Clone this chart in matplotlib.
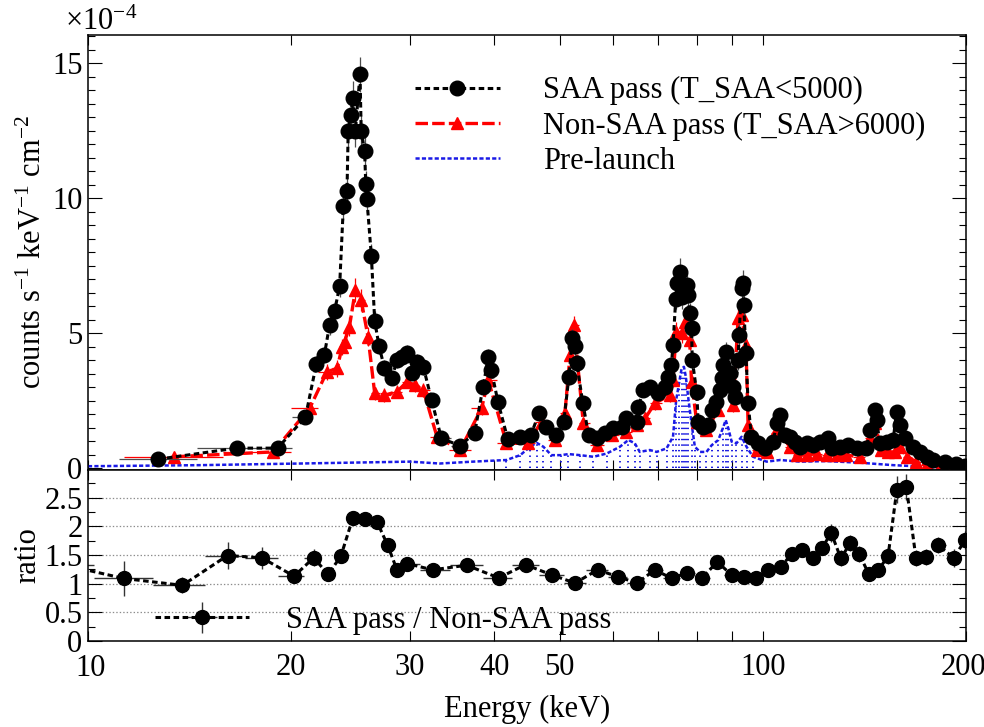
import numpy as np
import matplotlib
matplotlib.use("Agg")
import matplotlib.pyplot as plt
import matplotlib.transforms as mtransforms
from matplotlib.lines import Line2D
from matplotlib.ticker import FixedLocator, MultipleLocator, FuncFormatter, NullLocator

plt.rcParams['font.family'] = ['Liberation Serif', 'DejaVu Serif']
plt.rcParams['mathtext.fontset'] = 'custom'
plt.rcParams['mathtext.rm'] = 'Liberation Serif'
plt.rcParams['mathtext.it'] = 'Liberation Serif:italic'
plt.rcParams['lines.scale_dashes'] = False

# spectra, values in units of 1e-4 counts/s/keV/cm2
saa_e = [12.7, 16.6, 19.1, 21.0, 21.8, 22.4, 22.8, 23.2, 23.6, 23.9,
         24.2, 24.3, 24.5, 24.7, 24.9, 25.3, 25.4, 25.7, 25.8, 25.9,
         26.3, 26.6, 27.0, 27.5, 28.2, 28.7, 29.2, 29.7, 30.2, 30.7,
         31.4, 32.3, 33.4, 35.6, 37.4, 38.5, 39.2, 39.6, 40.5, 41.9,
         43.7, 45.3, 46.6, 47.8, 49.3, 50.7, 51.6, 52.2, 52.7, 53.0,
         54.1, 55.2, 56.7, 58.3, 60.0, 61.8, 62.6, 65.0, 65.4, 66.5,
         68.0, 70.0, 71.6, 72.4, 73.2, 73.6, 74.3, 74.6, 75.3, 75.8,
         77.1, 77.5, 77.9, 78.4, 78.6, 79.8, 80.2, 81.6, 83.0, 84.0,
         85.2, 86.4, 86.9, 87.4, 88.1, 89.4, 90.4, 90.9, 91.9, 92.2,
         93.0, 93.5, 93.7, 94.4, 95.1, 96.2, 98.4, 100.7, 103.6, 104.8,
         106.2, 107.8, 109.6, 111.5, 113.5, 116.1, 118.7, 121.5, 125.0, 126.4,
         130.1, 133.8, 137.7, 142.4, 144.1, 146.5, 147.4, 149.1, 152.5, 156.0,
         157.8, 159.6, 162.3, 167.0, 170.9, 174.8, 178.8, 186.1, 193.6, 199.0]
saa_v = [0.34, 0.75, 0.75, 1.90, 3.87, 4.20, 5.30, 5.83, 6.75, 9.71,
         10.27, 12.50, 13.10, 13.70, 12.50, 14.60, 12.50, 11.75, 10.53, 9.97,
         7.86, 5.46, 4.52, 3.72, 3.34, 4.00, 4.13, 4.27, 3.53, 3.95,
         3.76, 2.53, 1.11, 0.84, 1.30, 3.02, 4.13, 3.64, 2.47, 1.07,
         1.17, 1.23, 2.04, 1.54, 1.23, 1.73, 3.39, 4.81, 4.54, 3.89,
         2.43, 1.23, 1.11, 1.30, 1.48, 1.54, 1.85, 1.73, 2.28, 2.90,
         3.02, 2.78, 3.02, 3.39, 3.83, 4.57, 6.29, 6.85, 7.28, 6.36,
         6.79, 6.42, 5.74, 5.19, 4.01, 2.84, 1.73, 1.54, 1.60, 2.16,
         2.47, 2.90, 3.33, 3.83, 4.32, 3.52, 3.02, 2.65, 4.01, 4.94,
         6.67, 6.85, 6.05, 4.26, 2.41, 1.17, 0.93, 0.74, 0.99, 1.67,
         1.97, 1.23, 1.17, 0.99, 0.80, 0.93, 0.86, 0.99, 1.11, 0.74,
         0.80, 0.86, 0.74, 0.74, 1.42, 2.16, 1.79, 0.93, 0.99, 1.05,
         2.10, 1.60, 1.11, 0.80, 0.61, 0.43, 0.31, 0.25, 0.18, 0.09]
saa_err = [0.10, 0.15, 0.15, 0.20, 0.30, 0.30, 0.35, 0.35, 0.40, 0.50,
           0.50, 0.60, 0.60, 0.65, 0.60, 0.65, 0.60, 0.60, 0.50, 0.50,
           0.45, 0.35, 0.30, 0.30, 0.25, 0.30, 0.30, 0.30, 0.25, 0.30,
           0.30, 0.25, 0.15, 0.15, 0.15, 0.25, 0.30, 0.30, 0.25, 0.15,
           0.15, 0.15, 0.20, 0.20, 0.15, 0.20, 0.30, 0.35, 0.35, 0.30,
           0.25, 0.15, 0.15, 0.15, 0.15, 0.20, 0.20, 0.20, 0.25, 0.25,
           0.25, 0.25, 0.25, 0.25, 0.30, 0.35, 0.40, 0.45, 0.50, 0.45,
           0.45, 0.45, 0.40, 0.40, 0.35, 0.25, 0.20, 0.20, 0.20, 0.25,
           0.25, 0.25, 0.30, 0.30, 0.35, 0.30, 0.30, 0.25, 0.35, 0.40,
           0.45, 0.50, 0.45, 0.35, 0.25, 0.15, 0.15, 0.15, 0.15, 0.20,
           0.20, 0.15, 0.15, 0.15, 0.15, 0.15, 0.15, 0.15, 0.15, 0.15,
           0.15, 0.15, 0.15, 0.15, 0.20, 0.25, 0.20, 0.15, 0.15, 0.15,
           0.25, 0.20, 0.15, 0.15, 0.10, 0.10, 0.10, 0.10, 0.10, 0.10]

nonsaa_e = [13.4, 18.8, 21.3, 22.6, 23.4, 23.8, 24.0, 24.4, 24.9, 25.4,
            26.0, 26.6, 27.5, 28.7, 29.7, 30.5, 31.4, 32.9, 35.6, 38.3,
            39.2, 41.7, 44.9, 47.0, 49.2, 50.9, 51.8, 52.5, 54.2, 56.7,
            59.7, 62.8, 65.0, 66.9, 69.2, 72.8, 73.6, 74.4, 75.8, 76.6,
            77.9, 78.4, 79.8, 82.5, 85.9, 86.9, 88.9, 90.4, 91.9, 93.0,
            94.4, 95.1, 97.9, 101.3, 104.2, 106.1, 109.6, 112.2, 116.1, 120.1,
            124.3, 128.6, 133.0, 139.2, 144.1, 146.5, 149.9, 153.3, 156.9, 159.6,
            163.3, 168.9, 174.8, 182.9, 191.4, 199.2]
nonsaa_v = [0.43, 0.61, 2.22, 3.58, 3.70, 4.50, 4.69, 5.24, 6.60, 6.23,
            4.87, 2.78, 2.71, 2.84, 3.21, 3.09, 2.90, 1.17, 0.68, 2.22,
            3.27, 0.93, 0.93, 1.73, 1.05, 2.04, 4.20, 5.31, 1.67, 0.86,
            1.23, 1.36, 1.60, 1.85, 2.41, 2.71, 3.27, 5.06, 5.00, 5.43,
            4.75, 3.21, 1.73, 1.42, 2.16, 3.21, 3.21, 2.34, 5.56, 5.68,
            4.57, 1.60, 0.68, 0.61, 1.30, 1.30, 0.80, 0.49, 0.49, 0.55,
            0.49, 0.49, 0.49, 0.43, 1.11, 1.67, 0.68, 0.61, 0.61, 0.80,
            0.43, 0.25, 0.12, 0.04, 0.04, 0.00]
nonsaa_err = [0.10, 0.15, 0.25, 0.30, 0.30, 0.30, 0.35, 0.35, 0.45, 0.40,
              0.35, 0.25, 0.25, 0.25, 0.25, 0.25, 0.25, 0.15, 0.10, 0.25,
              0.30, 0.15, 0.15, 0.20, 0.15, 0.20, 0.30, 0.35, 0.20, 0.15,
              0.15, 0.15, 0.20, 0.20, 0.25, 0.25, 0.25, 0.35, 0.35, 0.35,
              0.35, 0.25, 0.20, 0.20, 0.20, 0.25, 0.25, 0.25, 0.35, 0.35,
              0.30, 0.20, 0.10, 0.10, 0.15, 0.15, 0.10, 0.10, 0.10, 0.10,
              0.10, 0.10, 0.10, 0.10, 0.15, 0.20, 0.10, 0.10, 0.10, 0.10,
              0.10, 0.08, 0.06, 0.05, 0.05, 0.05]

pre_e = [10.0, 14.7, 20.6, 30.0, 33.2, 37.2, 41.7, 43.7, 45.2, 46.2,
         47.3, 48.6, 50.3, 51.5, 53.6, 56.1, 58.7, 61.4, 63.2, 64.6,
         65.7, 68.0, 69.6, 72.0, 73.6, 74.4, 75.2, 75.8, 76.4, 76.9,
         77.5, 78.4, 79.3, 80.7, 82.5, 84.0, 85.9, 87.4, 88.1, 88.9,
         89.9, 91.4, 93.0, 94.6, 96.7, 101.3, 106.1, 113.5, 124.3, 139.2,
         156.0, 174.8, 187.1, 200.0]
pre_v = [0.08, 0.12, 0.18, 0.25, 0.18, 0.25, 0.31, 0.49, 0.80, 0.95,
         0.80, 0.49, 0.49, 0.53, 0.49, 0.43, 0.55, 0.80, 1.05, 0.93,
         0.61, 0.68, 0.61, 0.74, 1.17, 2.53, 3.21, 3.70, 3.76, 3.39,
         2.65, 1.67, 0.80, 0.61, 0.61, 0.86, 1.05, 1.54, 1.79, 1.48,
         0.99, 0.93, 1.17, 0.80, 0.43, 0.25, 0.31, 0.25, 0.27, 0.21,
         0.12, 0.06, -0.03, 0.00]

# ratio SAA / non-SAA (first and last bins sit just outside 10-200 keV)
ratio_e = [9.2, 11.3, 13.8, 16.1, 18.1, 20.2, 21.6, 22.7, 23.7, 24.7, 25.7,
           26.8, 27.8, 28.7, 29.7, 32.4, 36.4, 40.6, 44.5, 48.7, 52.7,
           56.9, 61.0, 65.1, 69.2, 73.3, 77.3, 81.3, 85.6, 89.9, 93.9,
           97.6, 101.9, 106.4, 110.3, 114.4, 118.5, 122.3, 126.3, 130.5, 134.8,
           138.9, 143.5, 148.2, 153.3, 158.0, 163.2, 168.6, 174.2, 181.8, 191.8,
           199.5, 206.0]
ratio_v = [1.33, 1.09, 0.97, 1.49, 1.45, 1.13, 1.45, 1.16, 1.48, 2.15, 2.12,
           2.08, 1.67, 1.24, 1.35, 1.24, 1.32, 1.10, 1.33, 1.15, 1.01,
           1.24, 1.12, 1.01, 1.24, 1.09, 1.19, 1.10, 1.38, 1.15, 1.12,
           1.09, 1.23, 1.29, 1.52, 1.59, 1.45, 1.62, 1.88, 1.44, 1.71,
           1.52, 1.17, 1.23, 1.48, 2.64, 2.68, 1.45, 1.47, 1.67, 1.45,
           1.76, 1.25]
ratio_err = [0.30, 0.30, 0.14, 0.23, 0.19, 0.12, 0.15, 0.12, 0.12, 0.10, 0.10,
             0.10, 0.10, 0.08, 0.08, 0.07, 0.07, 0.07, 0.07, 0.07, 0.07,
             0.07, 0.07, 0.07, 0.07, 0.07, 0.07, 0.07, 0.08, 0.08, 0.08,
             0.08, 0.08, 0.10, 0.10, 0.12, 0.12, 0.12, 0.16, 0.14, 0.14,
             0.14, 0.12, 0.12, 0.14, 0.23, 0.23, 0.14, 0.14, 0.14, 0.16,
             0.16, 0.20]

xticks = [10, 20, 30, 40, 50, 60, 70, 80, 90, 100, 200]
xticklabels = [10, 20, 30, 40, 50, 100, 200]

FS = 22


def bin_halfwidths(e):
    # bin edges half way (in log) between neighbouring points
    e = np.asarray(e, float)
    mid = np.sqrt(e[1:] * e[:-1])
    lo = np.concatenate([[e[0] ** 2 / mid[0]], mid])
    hi = np.concatenate([mid, [e[-1] ** 2 / mid[-1]]])
    return np.vstack([e - lo, hi - e])


def style_xaxis(ax):
    ax.set_xscale('log')
    ax.set_xlim(10, 200)
    ax.xaxis.set_major_locator(FixedLocator(xticks))
    ax.xaxis.set_minor_locator(NullLocator())
    ax.xaxis.set_major_formatter(FuncFormatter(
        lambda v, p: '%d' % round(v) if round(v) in xticklabels else ''))
    ax.tick_params(axis='x', which='major', direction='in', length=7, width=0.8,
                   top=True, bottom=True, labelsize=FS, pad=8.5)
    for s in ax.spines.values():
        s.set_linewidth(1.1)


def nudge(label, dx_px, dy_px):
    label.set_transform(label.get_transform() +
                        mtransforms.ScaledTranslation(dx_px / 100, dy_px / 100,
                                                      fig.dpi_scale_trans))


fig = plt.figure(figsize=(9.84, 7.27), dpi=100)
ax1 = fig.add_axes([0.0894, 0.3535, 0.8923, 0.5984])
ax2 = fig.add_axes([0.0894, 0.1183, 0.8923, 0.2352])

# ---- top panel: spectra
pe = np.array(pre_e)
pv = np.array(pre_v)
m = (pe > 40) & (pe < 100)
ax1.vlines(pe[m], 0, pv[m], colors='#1a1ae0', linestyles=(0, (1, 3)), lw=1.4)
ax1.plot(pre_e, pre_v, color='#1a1ae6', lw=1.8, dashes=(3, 1.6))

ax1.errorbar(nonsaa_e, nonsaa_v, yerr=nonsaa_err, xerr=bin_halfwidths(nonsaa_e),
             fmt='none', ecolor='red', elinewidth=0.9)
ax1.plot(nonsaa_e, nonsaa_v, color='red', lw=2.4, dashes=(9, 3),
         marker='^', ms=9, mfc='red', mec='red')

ax1.errorbar(saa_e, saa_v, yerr=saa_err, xerr=bin_halfwidths(saa_e),
             fmt='none', ecolor='0.3', elinewidth=0.9)
ax1.plot(saa_e, saa_v, color='k', lw=2.2, dashes=(4, 2.5),
         marker='o', ms=10.5, mfc='k', mec='k')

style_xaxis(ax1)
ax1.tick_params(axis='x', labelbottom=False)
ax1.set_ylim(-0.06, 16.05)
ax1.yaxis.set_major_locator(MultipleLocator(5))
ax1.yaxis.set_minor_locator(MultipleLocator(0.5))
ax1.yaxis.set_major_formatter(FuncFormatter(lambda v, p: '%g' % v))
ax1.tick_params(axis='y', which='major', direction='in', length=10, width=0.8,
                left=True, right=True, labelsize=FS, pad=4)
ax1.tick_params(axis='y', which='minor', direction='in', length=5, width=0.8,
                left=True, right=True)
ax1.set_ylabel(r'counts s$^{-1}$ keV$^{-1}$ cm$^{-2}$', fontsize=FS)
ax1.yaxis.set_label_coords(-0.045, 0.5)
fig.text(65 / 984, 1 - 30 / 727, r'$\times$10$^{-4}$', fontsize=FS, va='baseline', ha='left')

handles = [
    Line2D([], [], color='k', lw=2.2, dashes=(4, 2.5), marker='o', ms=10.5),
    Line2D([], [], color='red', lw=2.4, dashes=(9, 3), marker='^', ms=9),
    Line2D([], [], color='#1a1ae6', lw=1.8, dashes=(3, 1.6)),
]
ax1.legend(handles, ['SAA pass (T_SAA<5000)', 'Non-SAA pass (T_SAA>6000)', 'Pre-launch'],
           loc='upper left', bbox_to_anchor=(0.372, 0.905), frameon=False, fontsize=FS,
           handlelength=2.8, handletextpad=1.4, labelspacing=0.2,
           borderaxespad=0, borderpad=0)

# ---- bottom panel: ratio
cont = ax2.errorbar(ratio_e, ratio_v, yerr=ratio_err, xerr=bin_halfwidths(ratio_e),
                    fmt='o', color='k', ms=10, ecolor='0.2', elinewidth=1,
                    ls='--', lw=2.2, label='SAA pass / Non-SAA pass')
cont[0].set_dashes((4, 2.5))

style_xaxis(ax2)
ax2.set_ylim(0, 2.98)
ax2.yaxis.set_major_locator(MultipleLocator(0.5))
ax2.yaxis.set_minor_locator(MultipleLocator(0.25))
ax2.yaxis.set_major_formatter(FuncFormatter(lambda v, p: '%g' % v))
ax2.tick_params(axis='y', which='major', direction='in', length=10, width=0.8,
                left=True, right=True, labelsize=FS, pad=4)
ax2.tick_params(axis='y', which='minor', direction='in', length=5, width=0.8,
                left=True, right=True)
for g in [0.5, 1.0, 1.5, 2.0, 2.5]:
    ax2.axhline(g, color='0.55', ls=(0, (1, 1.5)), lw=0.9, zorder=0)
ax2.set_ylabel('ratio', fontsize=FS)
ax2.yaxis.set_label_coords(-0.052, 0.5)
ax2.set_xlabel('Energy (keV)', fontsize=FS, labelpad=9)
ax2.legend(loc='center left', bbox_to_anchor=(0.076, 0.12), frameon=False, fontsize=FS,
           handlelength=3.1, handletextpad=1.2, borderaxespad=0, borderpad=0)

# keep the corner labels apart and inside the figure
fig.canvas.draw()
nudge(ax2.xaxis.get_major_ticks()[-1].label1, -3, 0)
nudge(ax2.xaxis.get_major_ticks()[0].label1, 3, -1)
nudge(ax2.yaxis.get_major_ticks()[0].label1, 0, 4)

fig.savefig('out.png', dpi=100)
